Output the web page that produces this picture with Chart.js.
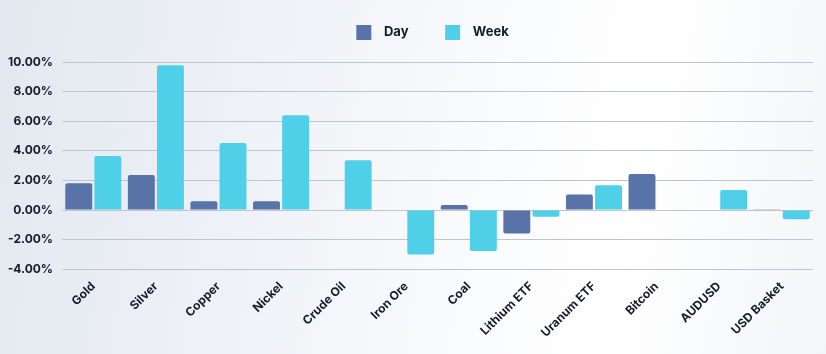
<!DOCTYPE html>
<html>
<head>
<meta charset="utf-8">
<script src="https://cdn.jsdelivr.net/npm/chart.js@4"></script>
<style>
  html, body { margin: 0; padding: 0; }
  body {
    width: 826px; height: 354px; overflow: hidden;
    background: linear-gradient(100deg, #e3e8f0 0%, #eef1f6 30%, #f9fafc 55%, #ffffff 75%, #f3f5f8 100%);
  }
  canvas { display: block; }
</style>
</head>
<body>
<canvas id="chart" width="826" height="354"></canvas>
<script>
const labels = ['Gold', 'Silver', 'Copper', 'Nickel', 'Crude Oil', 'Iron Ore', 'Coal', 'Lithium ETF', 'Uranum ETF', 'Bitcoin', 'AUDUSD', 'USD Basket']
const dayValues = [1.80, 2.36, 0.59, 0.59, 0, 0, 0.34, -1.58, 1.04, 2.43, -0.03, 0.01]
const weekValues = [3.65, 9.78, 4.53, 6.40, 3.36, -3.00, -2.77, -0.45, 1.67, -0.03, 1.35, -0.63]
const yMin = -4
const yMax = 10
const yStep = 2

const dark = '#161a2b'

// extra room under the legend, and centre it over the plot area
const legendGap = {
  id: 'legendGap',
  beforeInit(chart) {
    const fit = chart.legend.fit
    chart.legend.fit = function () {
      fit.bind(chart.legend)()
      this.height += 12
    }
  },
  afterLayout(chart) {
    chart.legend.left += 26
    chart.legend.right += 26
  }
}

new Chart('chart', {
  type: 'bar',
  data: {
    labels,
    datasets: [
      { label: 'Day', data: dayValues, backgroundColor: '#5873a8' },
      { label: 'Week', data: weekValues, backgroundColor: '#50cfe8' }
    ]
  },
  options: {
    responsive: false,
    animation: false,
    devicePixelRatio: 1,
    layout: { padding: { top: 13, right: 13, bottom: 12, left: 0 } },
    datasets: {
      bar: { categoryPercentage: 0.93, barPercentage: 0.925, borderRadius: 2, borderSkipped: 'start' }
    },
    plugins: {
      legend: {
        display: true,
        labels: {
          color: dark,
          boxWidth: 15,
          boxHeight: 15,
          padding: 12,
          font: { family: 'Inter', size: 13, weight: 'bold' },
          generateLabels(chart) {
            const items = Chart.defaults.plugins.legend.labels.generateLabels(chart)
            items.forEach((it, i) => {
              it.text = '  ' + it.text + (i === 0 ? '        ' : '')
            })
            return items
          }
        }
      },
      tooltip: { enabled: false }
    },
    scales: {
      x: {
        grid: { display: false },
        border: { display: false },
        ticks: {
          color: dark,
          autoSkip: false,
          maxRotation: 45,
          minRotation: 45,
          padding: 2,
          font: { family: 'Inter', size: 12, weight: 'bold' }
        }
      },
      y: {
        min: yMin,
        max: yMax,
        afterFit: scale => { scale.width = 62 },
        border: { display: false },
        grid: { color: '#c0c4cc', lineWidth: 1, drawTicks: false },
        ticks: {
          stepSize: yStep,
          color: dark,
          padding: 9,
          font: { family: 'Inter', size: 12, weight: 'bold' },
          callback: v => v.toFixed(2) + '%'
        }
      }
    }
  },
  plugins: [legendGap]
})
</script>
</body>
</html>
